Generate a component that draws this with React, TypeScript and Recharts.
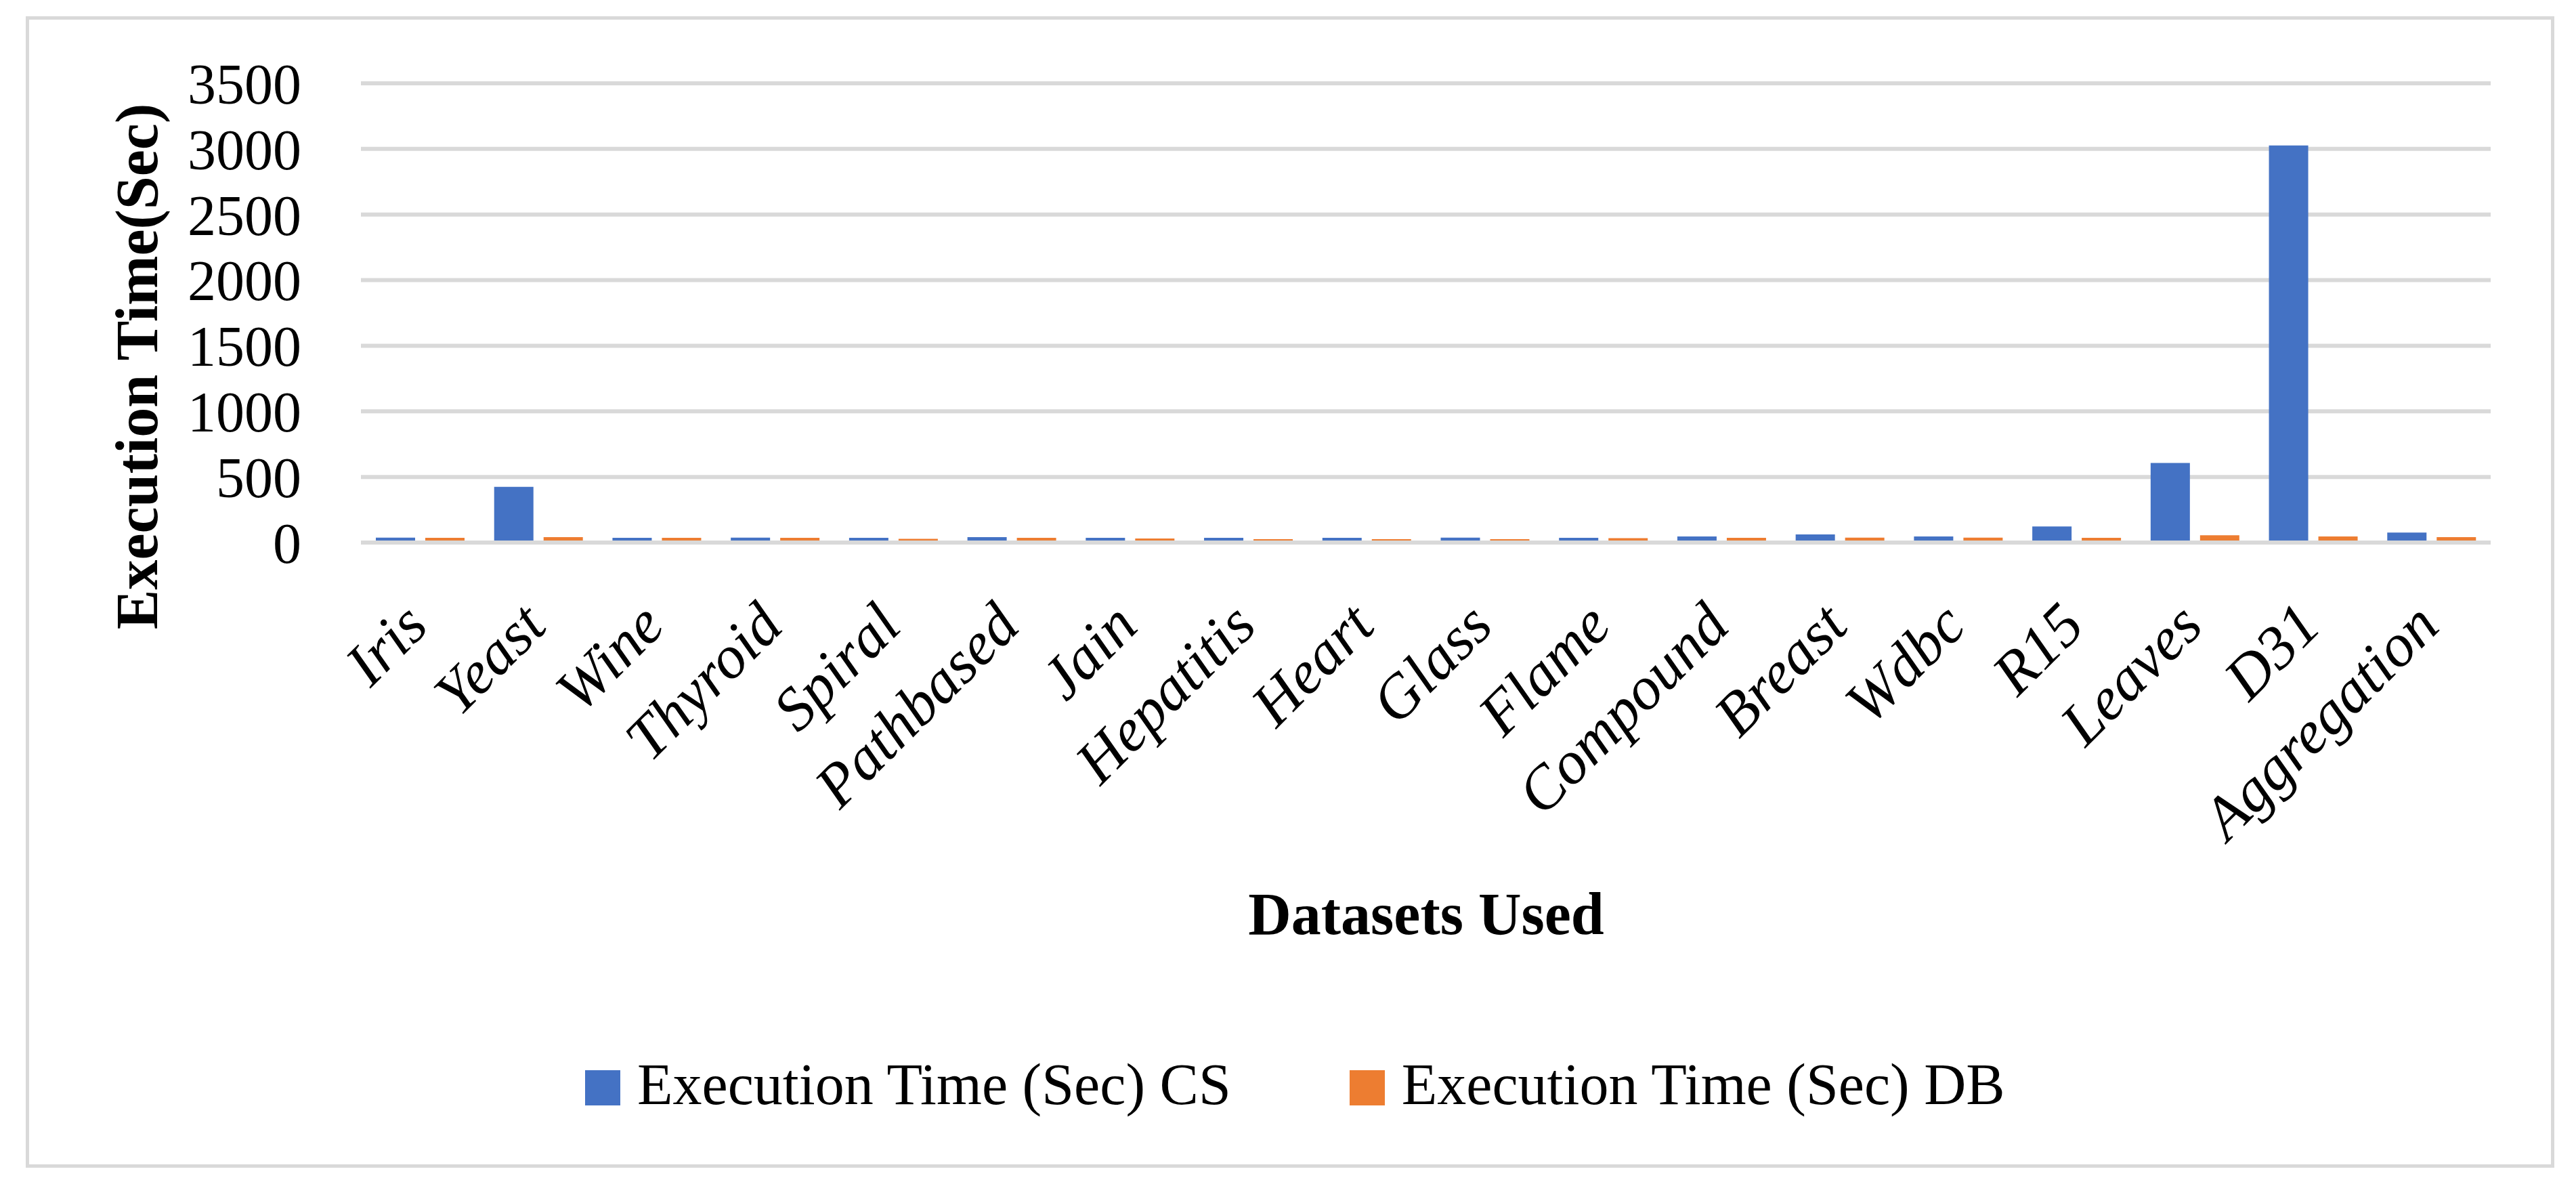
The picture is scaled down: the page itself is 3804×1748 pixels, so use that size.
import React from 'react'
import { Bar, BarChart, CartesianGrid, Label, XAxis, YAxis } from 'recharts'

const datasets = [
  'Iris', 'Yeast', 'Wine', 'Thyroid', 'Spiral', 'Pathbased', 'Jain', 'Hepatitis', 'Heart',
  'Glass', 'Flame', 'Compound', 'Breast', 'Wdbc', 'R15', 'Leaves', 'D31', 'Aggregation',
]
const timeCS = [38, 424, 36, 38, 36, 41, 36, 36, 36, 38, 36, 46, 62, 46, 122, 607, 3027, 76]
const timeDB = [36, 41, 36, 36, 28, 36, 31, 26, 26, 26, 33, 36, 38, 38, 36, 55, 46, 41]
const yTicks = [0, 500, 1000, 1500, 2000, 2500, 3000, 3500]
const seriesNames = ['Execution Time (Sec) CS', 'Execution Time (Sec) DB']

const data = datasets.map((name, i) => ({ name, cs: timeCS[i], db: timeDB[i] }))

const FONT = '"Liberation Serif", "Times New Roman", serif'
const BLUE = '#4472C4'
const ORANGE = '#ED7D31'
const GRID = '#d9d9d9'

function CategoryTick({ x, y, payload }: any) {
  return (
    <g transform={`translate(${x + 15},${y + 127})`}>
      <text
        x={0}
        y={0}
        transform="rotate(-45)"
        textAnchor="end"
        fontFamily={FONT}
        fontStyle="italic"
        fontSize={90}
        fill="#000"
      >
        {payload.value}
      </text>
    </g>
  )
}

export default function App() {
  return (
    <div
      style={{
        position: 'absolute',
        left: 0,
        top: 0,
        width: 3804,
        height: 1748,
        background: '#fff',
        fontFamily: FONT,
      }}
    >
      <div
        style={{
          position: 'absolute',
          left: 38,
          top: 24,
          width: 3734,
          height: 1700,
          border: `5px solid ${GRID}`,
          boxSizing: 'border-box',
        }}
      />
      <div style={{ position: 'absolute', left: 0, top: 0 }}>
        <BarChart
          width={3804}
          height={1748}
          data={data}
          barCategoryGap={22}
          barGap={15}
          margin={{ top: 123, right: 126, left: 333, bottom: 747 }}
        >
          <CartesianGrid vertical={false} stroke={GRID} strokeWidth={6} />
          <YAxis
            domain={[0, 3500]}
            ticks={yTicks}
            interval={0}
            width={200}
            axisLine={false}
            tickLine={false}
            tickSize={0}
            tickMargin={88}
            tick={{ fontSize: 84, fill: '#000', fontFamily: FONT }}
          >
            <Label
              content={() => (
                <text
                  transform="translate(232,541) rotate(-90)"
                  textAnchor="middle"
                  fontFamily={FONT}
                  fontWeight="bold"
                  fontSize={88}
                  fill="#000"
                >
                  Execution Time(Sec)
                </text>
              )}
            />
          </YAxis>
          <XAxis
            dataKey="name"
            height={200}
            interval={0}
            tickLine={false}
            tickSize={0}
            tickMargin={0}
            axisLine={{ stroke: GRID, strokeWidth: 6 }}
            tick={<CategoryTick />}
          >
            <Label
              content={() => (
                <text
                  x={2106}
                  y={1379}
                  textAnchor="middle"
                  fontFamily={FONT}
                  fontWeight="bold"
                  fontSize={88}
                  fill="#000"
                >
                  Datasets Used
                </text>
              )}
            />
          </XAxis>
          <Bar dataKey="cs" name={seriesNames[0]} fill={BLUE} isAnimationActive={false} />
          <Bar dataKey="db" name={seriesNames[1]} fill={ORANGE} isAnimationActive={false} />
        </BarChart>
      </div>
      <div
        style={{
          position: 'absolute',
          left: 864,
          top: 1563,
          display: 'flex',
          alignItems: 'center',
          fontSize: 86,
          lineHeight: 1,
          color: '#000',
        }}
      >
        {seriesNames.map((name, i) => (
          <div
            key={name}
            style={{ display: 'flex', alignItems: 'center', marginLeft: i === 0 ? 0 : 175 }}
          >
            <div style={{ width: 52, height: 52, background: i === 0 ? BLUE : ORANGE }} />
            <span style={{ marginLeft: 25, position: 'relative', top: -5 }}>{name}</span>
          </div>
        ))}
      </div>
    </div>
  )
}
